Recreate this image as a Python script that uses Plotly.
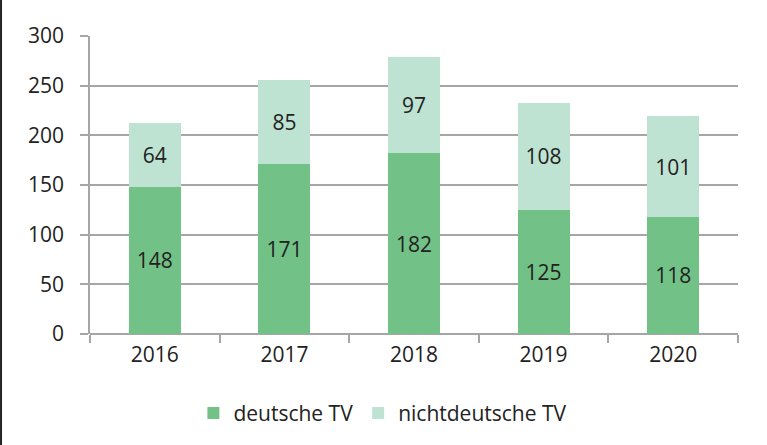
import plotly.graph_objects as go

years = ["2016", "2017", "2018", "2019", "2020"]
deutsche = [148, 171, 182, 125, 118]
nichtdeutsche = [64, 85, 97, 108, 101]
series_names = ["deutsche TV", "nichtdeutsche TV"]
y_ticks = [0, 50, 100, 150, 200, 250, 300]

FONT = "Open Sans"
TXT = "#222222"
GRID = "#A6A6A6"

fig = go.Figure()
fig.add_trace(go.Bar(
    x=years, y=deutsche, name=series_names[0],
    marker=dict(color="#72C287", line=dict(width=0)),
    text=deutsche, textposition="inside", insidetextanchor="middle",
    textfont=dict(family=FONT, size=21, color=TXT), textangle=0,
))
fig.add_trace(go.Bar(
    x=years, y=nichtdeutsche, name=series_names[1],
    marker=dict(color="#BEE3D2", line=dict(width=0)),
    text=nichtdeutsche, textposition="inside", insidetextanchor="middle",
    textfont=dict(family=FONT, size=21, color=TXT), textangle=0,
))

fig.update_layout(
    barmode="stack", bargap=0.6,
    width=767, height=445,
    margin=dict(l=90, r=29, t=36, b=110),
    paper_bgcolor="white", plot_bgcolor="white",
    font=dict(family=FONT, size=21, color=TXT),
    showlegend=True,
    legend=dict(orientation="h", x=0.452, xanchor="center", y=-0.262, yanchor="middle",
                font=dict(family=FONT, size=21, color=TXT), itemwidth=30,
                traceorder="normal", itemclick=False),
    uniformtext=dict(mode="show", minsize=21),
    shapes=[dict(type="line", xref="paper", yref="paper",
                 x0=-0.1373, x1=-0.1373, y0=-0.4, y1=1.2,
                 line=dict(color="#222222", width=2))],
)
fig.update_xaxes(
    type="category", tickson="boundaries", ticks="outside", ticklen=8,
    tickcolor=GRID, tickwidth=1.5, showline=False, showgrid=False,
    ticklabelstandoff=6, tickfont=dict(family=FONT, size=21, color=TXT),
)
fig.update_yaxes(
    range=[0, 300], tickvals=y_ticks, ticks="outside", ticklen=8,
    tickcolor=GRID, tickwidth=1.5, showgrid=True, gridcolor=GRID, gridwidth=1.5,
    zeroline=True, zerolinecolor=GRID, zerolinewidth=1.5,
    showline=True, linecolor=GRID, linewidth=1.5,
    ticklabelstandoff=12, tickfont=dict(family=FONT, size=21, color=TXT),
)

fig.write_html("out.html")
